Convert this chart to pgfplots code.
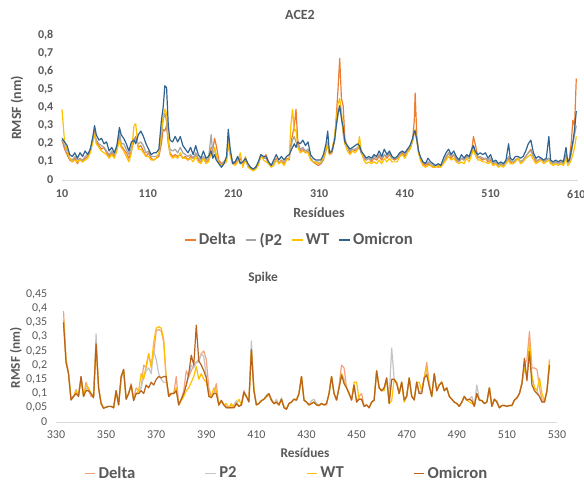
\documentclass[border=0pt]{standalone}
\usepackage{pgfplots}
\pgfplotsset{compat=1.18}
\usepackage{pgfplotstable}
\usepackage{fontspec}
\setmainfont{Carlito}
\definecolor{tgray}{HTML}{595959}
\definecolor{axgray}{HTML}{D9D9D9}
\definecolor{aDelta}{HTML}{ED7D31}
\definecolor{aP2}{HTML}{A5A5A5}
\definecolor{aWT}{HTML}{FFC000}
\definecolor{aOmi}{HTML}{32628F}
\definecolor{sDelta}{HTML}{F4A27E}
\definecolor{sP2}{HTML}{C4C4C4}
\definecolor{sWT}{HTML}{FFC000}
\definecolor{sOmi}{HTML}{B8621B}

\pgfplotstableread{
x D P W O
10 0.22 0.22 0.39 0.23
13 0.17 0.19 0.21 0.21
16 0.14 0.16 0.17 0.19
19 0.11 0.12 0.12 0.14
22 0.10 0.11 0.10 0.13
25 0.12 0.13 0.11 0.15
28 0.09 0.11 0.10 0.12
31 0.12 0.12 0.11 0.15
34 0.10 0.11 0.10 0.13
37 0.12 0.13 0.11 0.16
40 0.13 0.14 0.12 0.14
43 0.16 0.17 0.15 0.17
46 0.22 0.22 0.21 0.24
48 0.27 0.26 0.25 0.30
50 0.21 0.22 0.20 0.25
53 0.19 0.20 0.18 0.22
56 0.17 0.19 0.16 0.23
59 0.18 0.18 0.15 0.20
62 0.15 0.16 0.14 0.21
65 0.13 0.14 0.12 0.16
68 0.15 0.16 0.14 0.18
71 0.13 0.14 0.12 0.15
74 0.17 0.18 0.16 0.19
77 0.24 0.27 0.22 0.29
79 0.19 0.20 0.18 0.25
82 0.17 0.20 0.16 0.23
85 0.15 0.17 0.13 0.20
88 0.12 0.14 0.10 0.16
91 0.16 0.18 0.15 0.21
94 0.22 0.23 0.30 0.22
96 0.24 0.22 0.31 0.20
99 0.18 0.20 0.17 0.25
102 0.19 0.21 0.17 0.27
105 0.16 0.19 0.15 0.24
108 0.13 0.15 0.13 0.20
111 0.15 0.16 0.13 0.17
114 0.12 0.13 0.11 0.14
117 0.11 0.13 0.11 0.15
120 0.12 0.13 0.12 0.15
123 0.13 0.14 0.15 0.17
126 0.20 0.25 0.26 0.33
128 0.28 0.33 0.35 0.40
130 0.27 0.37 0.39 0.52
132 0.30 0.32 0.37 0.51
134 0.20 0.22 0.22 0.30
136 0.15 0.17 0.14 0.22
139 0.13 0.16 0.12 0.21
142 0.14 0.17 0.13 0.24
145 0.13 0.15 0.12 0.21
148 0.14 0.18 0.15 0.24
151 0.12 0.15 0.12 0.19
154 0.13 0.14 0.12 0.17
157 0.11 0.13 0.11 0.15
160 0.13 0.14 0.12 0.18
163 0.12 0.12 0.10 0.14
166 0.14 0.15 0.13 0.19
169 0.11 0.12 0.10 0.14
172 0.10 0.11 0.09 0.12
175 0.12 0.13 0.12 0.16
178 0.10 0.11 0.09 0.12
181 0.11 0.12 0.10 0.13
184 0.18 0.25 0.15 0.16
186 0.17 0.14 0.13 0.12
188 0.23 0.17 0.18 0.14
190 0.19 0.13 0.14 0.11
193 0.11 0.10 0.09 0.09
196 0.09 0.08 0.08 0.07
199 0.10 0.10 0.09 0.09
202 0.12 0.12 0.10 0.13
204 0.22 0.22 0.20 0.28
206 0.15 0.16 0.14 0.18
209 0.10 0.10 0.09 0.09
212 0.09 0.10 0.08 0.10
215 0.11 0.12 0.10 0.13
218 0.12 0.10 0.15 0.09
221 0.08 0.09 0.07 0.10
224 0.11 0.11 0.13 0.12
227 0.08 0.08 0.07 0.09
230 0.06 0.07 0.06 0.07
233 0.06 0.06 0.05 0.06
236 0.07 0.07 0.06 0.07
239 0.09 0.09 0.08 0.10
242 0.13 0.13 0.14 0.14
245 0.12 0.12 0.11 0.13
248 0.14 0.12 0.10 0.13
251 0.10 0.09 0.09 0.10
254 0.08 0.08 0.07 0.08
257 0.09 0.09 0.08 0.11
260 0.12 0.11 0.11 0.14
263 0.09 0.10 0.09 0.11
266 0.11 0.10 0.10 0.13
269 0.09 0.10 0.08 0.11
272 0.12 0.11 0.11 0.13
275 0.11 0.12 0.12 0.14
277 0.20 0.18 0.30 0.16
279 0.25 0.22 0.39 0.18
281 0.30 0.24 0.27 0.20
283 0.39 0.21 0.28 0.18
285 0.22 0.19 0.18 0.21
288 0.16 0.17 0.15 0.20
291 0.17 0.18 0.16 0.22
294 0.15 0.16 0.15 0.19
297 0.16 0.17 0.15 0.21
300 0.12 0.12 0.11 0.14
303 0.10 0.10 0.10 0.12
306 0.09 0.10 0.10 0.11
309 0.08 0.10 0.09 0.11
312 0.09 0.09 0.10 0.11
315 0.11 0.12 0.12 0.14
318 0.16 0.17 0.17 0.20
320 0.20 0.21 0.20 0.27
322 0.14 0.15 0.14 0.15
325 0.15 0.16 0.17 0.16
328 0.22 0.22 0.24 0.22
330 0.35 0.30 0.33 0.30
332 0.50 0.36 0.42 0.37
334 0.67 0.40 0.45 0.41
336 0.45 0.35 0.38 0.34
338 0.41 0.26 0.27 0.29
340 0.23 0.20 0.20 0.21
343 0.18 0.18 0.16 0.19
346 0.15 0.16 0.14 0.17
349 0.17 0.17 0.16 0.18
352 0.16 0.17 0.15 0.19
355 0.17 0.18 0.17 0.20
357 0.18 0.19 0.24 0.19
359 0.15 0.15 0.17 0.16
362 0.12 0.13 0.11 0.14
365 0.11 0.11 0.09 0.12
368 0.12 0.12 0.10 0.13
371 0.10 0.11 0.09 0.12
374 0.12 0.13 0.10 0.14
377 0.11 0.12 0.09 0.13
380 0.13 0.14 0.11 0.16
383 0.11 0.12 0.09 0.13
386 0.14 0.14 0.12 0.17
389 0.12 0.13 0.10 0.14
392 0.14 0.15 0.12 0.16
395 0.12 0.12 0.10 0.13
398 0.11 0.12 0.10 0.12
401 0.12 0.12 0.10 0.13
404 0.13 0.14 0.13 0.15
407 0.15 0.16 0.14 0.16
410 0.13 0.14 0.12 0.15
413 0.16 0.16 0.15 0.17
416 0.18 0.17 0.17 0.19
419 0.22 0.21 0.22 0.23
421 0.33 0.26 0.27 0.27
422 0.48 0.27 0.28 0.27
424 0.24 0.22 0.22 0.22
426 0.15 0.16 0.15 0.16
428 0.12 0.12 0.11 0.13
431 0.09 0.10 0.08 0.10
434 0.08 0.09 0.07 0.09
437 0.09 0.10 0.08 0.12
440 0.08 0.09 0.08 0.10
443 0.07 0.08 0.07 0.09
446 0.08 0.08 0.07 0.08
449 0.07 0.08 0.08 0.09
452 0.08 0.08 0.07 0.08
455 0.10 0.10 0.09 0.12
458 0.12 0.13 0.11 0.15
461 0.15 0.15 0.13 0.17
464 0.12 0.13 0.11 0.14
467 0.14 0.14 0.12 0.16
470 0.11 0.12 0.10 0.13
473 0.10 0.10 0.09 0.11
476 0.12 0.12 0.10 0.14
479 0.11 0.11 0.09 0.12
482 0.13 0.13 0.12 0.14
485 0.12 0.12 0.10 0.13
488 0.16 0.15 0.14 0.17
490 0.24 0.18 0.17 0.19
492 0.20 0.15 0.14 0.16
495 0.13 0.12 0.11 0.14
498 0.12 0.13 0.11 0.15
501 0.11 0.12 0.10 0.14
504 0.12 0.12 0.10 0.15
507 0.10 0.11 0.09 0.12
510 0.11 0.12 0.10 0.14
513 0.08 0.09 0.08 0.10
516 0.09 0.10 0.09 0.11
519 0.08 0.08 0.07 0.09
522 0.09 0.09 0.08 0.10
525 0.08 0.08 0.07 0.09
528 0.10 0.10 0.09 0.11
531 0.12 0.13 0.11 0.20
533 0.10 0.11 0.09 0.12
536 0.09 0.10 0.09 0.11
539 0.11 0.11 0.10 0.13
542 0.12 0.12 0.12 0.13
545 0.10 0.10 0.09 0.12
548 0.11 0.11 0.10 0.13
551 0.13 0.13 0.12 0.16
554 0.15 0.15 0.13 0.20
557 0.17 0.16 0.14 0.22
560 0.13 0.13 0.11 0.15
563 0.10 0.11 0.09 0.12
566 0.11 0.11 0.10 0.13
569 0.12 0.12 0.11 0.12
572 0.10 0.10 0.09 0.11
575 0.11 0.11 0.10 0.12
578 0.12 0.12 0.11 0.24
580 0.10 0.10 0.09 0.11
583 0.09 0.09 0.08 0.10
586 0.10 0.10 0.09 0.11
589 0.09 0.09 0.08 0.10
592 0.10 0.10 0.09 0.11
595 0.09 0.09 0.08 0.10
598 0.14 0.13 0.12 0.18
600 0.10 0.09 0.08 0.10
602 0.12 0.10 0.09 0.11
604 0.20 0.14 0.11 0.16
606 0.33 0.20 0.14 0.21
608 0.30 0.25 0.18 0.28
610 0.56 0.30 0.24 0.38
}\acetab

\pgfplotstableread{
x D P W O
333 0.39 0.35 0.36 0.35
334 0.22 0.21 0.22 0.21
335 0.17 0.17 0.17 0.17
336 0.08 0.08 0.08 0.077
337 0.09 0.09 0.09 0.09
338 0.10 0.115 0.11 0.10
339 0.095 0.09 0.095 0.09
340 0.16 0.15 0.15 0.16
341 0.09 0.09 0.09 0.09
342 0.14 0.12 0.13 0.11
343 0.11 0.11 0.12 0.11
344 0.09 0.10 0.10 0.10
345 0.09 0.09 0.09 0.085
346 0.27 0.31 0.27 0.275
347 0.12 0.12 0.12 0.12
348 0.065 0.065 0.065 0.065
349 0.05 0.05 0.05 0.048
350 0.052 0.052 0.052 0.052
351 0.055 0.055 0.055 0.055
352 0.055 0.055 0.055 0.055
353 0.05 0.05 0.05 0.05
354 0.11 0.10 0.11 0.11
355 0.06 0.06 0.06 0.06
356 0.16 0.15 0.16 0.16
357 0.185 0.18 0.18 0.185
358 0.08 0.085 0.085 0.08
359 0.10 0.10 0.10 0.10
360 0.135 0.13 0.13 0.13
361 0.08 0.08 0.08 0.075
362 0.12 0.10 0.10 0.10
363 0.11 0.10 0.11 0.10
364 0.12 0.12 0.17 0.11
365 0.20 0.16 0.15 0.10
366 0.19 0.18 0.20 0.13
367 0.24 0.19 0.24 0.12
368 0.20 0.17 0.19 0.14
369 0.24 0.25 0.28 0.13
370 0.32 0.22 0.33 0.15
371 0.325 0.17 0.335 0.16
372 0.32 0.15 0.33 0.155
373 0.28 0.14 0.29 0.16
374 0.15 0.14 0.15 0.16
375 0.09 0.10 0.09 0.09
376 0.10 0.10 0.10 0.10
377 0.10 0.10 0.10 0.10
378 0.16 0.12 0.12 0.11
379 0.06 0.06 0.06 0.06
380 0.08 0.08 0.075 0.08
381 0.11 0.10 0.09 0.10
382 0.18 0.13 0.11 0.13
383 0.16 0.16 0.12 0.17
384 0.18 0.20 0.14 0.235
385 0.20 0.19 0.16 0.20
386 0.21 0.21 0.195 0.34
387 0.22 0.21 0.15 0.215
388 0.24 0.24 0.17 0.20
389 0.25 0.23 0.15 0.18
390 0.22 0.16 0.14 0.155
391 0.12 0.10 0.10 0.09
392 0.09 0.09 0.09 0.085
393 0.10 0.10 0.12 0.10
394 0.135 0.11 0.11 0.10
395 0.06 0.06 0.06 0.06
396 0.077 0.075 0.075 0.075
397 0.06 0.06 0.06 0.06
398 0.055 0.05 0.065 0.05
399 0.05 0.05 0.05 0.05
400 0.06 0.05 0.065 0.05
401 0.05 0.06 0.05 0.05
402 0.07 0.075 0.06 0.065
403 0.055 0.055 0.08 0.055
404 0.06 0.06 0.06 0.06
405 0.11 0.10 0.10 0.105
406 0.09 0.09 0.09 0.09
407 0.075 0.075 0.075 0.07
408 0.25 0.285 0.25 0.255
409 0.11 0.11 0.12 0.11
410 0.06 0.06 0.06 0.06
411 0.065 0.065 0.065 0.065
412 0.075 0.075 0.075 0.075
413 0.08 0.08 0.08 0.08
414 0.09 0.095 0.09 0.09
415 0.095 0.10 0.095 0.10
416 0.08 0.08 0.075 0.077
417 0.065 0.065 0.065 0.064
418 0.07 0.08 0.07 0.07
419 0.06 0.06 0.06 0.06
420 0.08 0.085 0.08 0.08
421 0.055 0.055 0.055 0.05
422 0.045 0.045 0.045 0.045
423 0.065 0.065 0.065 0.065
424 0.07 0.07 0.07 0.07
425 0.08 0.08 0.08 0.08
426 0.075 0.075 0.08 0.077
427 0.10 0.10 0.10 0.10
428 0.16 0.16 0.16 0.16
429 0.077 0.077 0.077 0.077
430 0.07 0.07 0.07 0.07
431 0.06 0.06 0.06 0.06
432 0.065 0.075 0.065 0.065
433 0.07 0.08 0.07 0.07
434 0.06 0.065 0.06 0.06
435 0.058 0.06 0.058 0.058
436 0.065 0.065 0.065 0.065
437 0.06 0.06 0.06 0.06
438 0.06 0.065 0.065 0.065
439 0.10 0.10 0.10 0.10
440 0.16 0.16 0.16 0.16
441 0.10 0.10 0.10 0.10
442 0.077 0.077 0.077 0.077
443 0.13 0.12 0.12 0.12
444 0.20 0.17 0.17 0.165
445 0.19 0.15 0.14 0.135
446 0.12 0.12 0.12 0.12
447 0.10 0.10 0.10 0.10
448 0.077 0.08 0.08 0.077
449 0.13 0.13 0.14 0.13
450 0.07 0.07 0.14 0.07
451 0.09 0.08 0.08 0.08
452 0.10 0.08 0.08 0.08
453 0.055 0.055 0.055 0.055
454 0.06 0.06 0.06 0.06
455 0.05 0.05 0.05 0.05
456 0.07 0.07 0.07 0.07
457 0.077 0.077 0.077 0.077
458 0.18 0.18 0.18 0.18
459 0.12 0.12 0.12 0.12
460 0.11 0.11 0.11 0.11
461 0.12 0.12 0.11 0.12
462 0.155 0.155 0.15 0.155
463 0.07 0.09 0.065 0.065
464 0.15 0.26 0.075 0.15
465 0.15 0.15 0.15 0.15
466 0.14 0.14 0.14 0.135
467 0.10 0.10 0.10 0.10
468 0.14 0.14 0.14 0.14
469 0.077 0.077 0.07 0.077
470 0.09 0.09 0.09 0.09
471 0.155 0.155 0.155 0.155
472 0.09 0.09 0.09 0.09
473 0.08 0.08 0.08 0.077
474 0.14 0.14 0.14 0.14
475 0.10 0.10 0.14 0.10
476 0.11 0.11 0.11 0.10
477 0.155 0.155 0.155 0.155
478 0.21 0.17 0.19 0.165
479 0.13 0.14 0.13 0.125
480 0.09 0.09 0.09 0.09
481 0.17 0.17 0.17 0.17
482 0.11 0.11 0.11 0.11
483 0.13 0.13 0.13 0.13
484 0.14 0.14 0.14 0.14
485 0.11 0.11 0.11 0.11
486 0.12 0.12 0.12 0.12
487 0.09 0.09 0.09 0.09
488 0.08 0.08 0.08 0.08
489 0.07 0.07 0.07 0.07
490 0.065 0.065 0.065 0.065
491 0.055 0.055 0.055 0.055
492 0.07 0.07 0.07 0.07
493 0.09 0.09 0.09 0.09
494 0.077 0.077 0.077 0.077
495 0.08 0.08 0.07 0.08
496 0.075 0.09 0.065 0.075
497 0.055 0.06 0.06 0.055
498 0.10 0.13 0.10 0.10
499 0.077 0.08 0.077 0.077
500 0.075 0.075 0.075 0.075
501 0.065 0.065 0.065 0.065
502 0.07 0.07 0.07 0.07
503 0.12 0.12 0.12 0.12
504 0.055 0.055 0.055 0.055
505 0.08 0.08 0.08 0.08
506 0.07 0.075 0.07 0.07
507 0.05 0.05 0.05 0.05
508 0.058 0.058 0.058 0.058
509 0.058 0.058 0.058 0.058
510 0.055 0.055 0.055 0.055
511 0.058 0.058 0.058 0.058
512 0.058 0.058 0.058 0.058
513 0.077 0.077 0.077 0.077
514 0.085 0.085 0.085 0.085
515 0.10 0.10 0.10 0.10
516 0.135 0.135 0.14 0.135
517 0.20 0.19 0.19 0.224
518 0.22 0.16 0.16 0.145
519 0.318 0.25 0.28 0.247
520 0.19 0.16 0.16 0.13
521 0.19 0.12 0.12 0.11
522 0.185 0.11 0.11 0.10
523 0.12 0.09 0.155 0.09
524 0.08 0.07 0.10 0.07
525 0.07 0.07 0.075 0.07
526 0.11 0.11 0.11 0.11
527 0.21 0.20 0.22 0.20
}\spiketab

\pgfplotsset{
  mychart/.style={
    scale only axis,
    anchor=south west,
    axis lines*=left,
    x axis line style={draw=axgray, line width=0.6pt},
    y axis line style={draw=none},
    major tick length=0pt,
    tick style={draw=none},
    ymin=0,
    clip=false,
    /pgf/number format/assume math mode=true,
    yticklabel style={/pgf/number format/.cd, use comma, fixed, precision=2},
    xticklabel style={/pgf/number format/.cd, 1000 sep={}},
    legend columns=4,
    legend image code/.code={\draw[#1] (0pt,0pt) -- (8pt,0pt);},
    every axis plot/.append style={no markers, line width=0.9pt, line join=round},
  }
}

\begin{document}
\begin{tikzpicture}
\path[use as bounding box] (0pt,0pt) rectangle (438pt,-363pt);

% ---------- ACE2 ----------
\begin{axis}[mychart,
  at={(46.5pt,-135pt)}, width=387pt, height=108.75pt,
  xmin=10, xmax=612, ymax=0.8,
  xtick={10,110,210,310,410,510,610},
  ytick={0,0.1,0.2,0.3,0.4,0.5,0.6,0.7,0.8},
  ticklabel style={font=\fontsize{9}{10}\selectfont\bfseries, text=tgray},
  xticklabel shift=4pt, yticklabel shift=3pt,
  legend style={at={(0.461,-0.414)}, anchor=center, draw=none, fill=none,
    font=\fontsize{12.5}{14}\selectfont\bfseries, text=tgray,
    /tikz/every even column/.append style={column sep=5pt}},
]
\addplot[color=aDelta] table[x=x, y=D] {\acetab};
\addlegendentry{Delta}
\addplot[color=aP2] table[x=x, y=P] {\acetab};
\addlegendentry{{(P2}}
\addplot[color=aWT] table[x=x, y=W] {\acetab};
\addlegendentry{WT}
\addplot[color=aOmi] table[x=x, y=O] {\acetab};
\addlegendentry{Omicron}
\end{axis}

% ---------- Spike ----------
\begin{axis}[mychart,
  at={(42pt,-316.5pt)}, width=375.75pt, height=96pt,
  xmin=330, xmax=530, ymax=0.45,
  xtick={330,350,370,390,410,430,450,470,490,510,530},
  ytick={0,0.05,0.1,0.15,0.2,0.25,0.3,0.35,0.4,0.45},
  ticklabel style={font=\fontsize{9}{10}\selectfont, text=tgray},
  xticklabel shift=3pt, yticklabel shift=3pt,
  legend style={at={(0.461,-0.40)}, anchor=center, draw=none, fill=none,
    font=\fontsize{12.5}{14}\selectfont\bfseries, text=tgray,
    /tikz/every even column/.append style={column sep=50pt}},
]
\addplot[color=sDelta] table[x=x, y=D] {\spiketab};
\addlegendentry{Delta}
\addplot[color=sP2] table[x=x, y=P] {\spiketab};
\addlegendentry{P2}
\addplot[color=sWT] table[x=x, y=W] {\spiketab};
\addlegendentry{WT}
\addplot[color=sOmi] table[x=x, y=O] {\spiketab};
\addlegendentry{Omicron}
\end{axis}

% titles and axis labels
\node[font=\fontsize{10.5}{12}\selectfont\bfseries, text=tgray] at (225pt,-11.25pt) {ACE2};
\node[font=\fontsize{10.5}{12}\selectfont\bfseries, text=tgray] at (239.25pt,-159.75pt) {Resídues};
\node[font=\fontsize{10.5}{12}\selectfont\bfseries, text=tgray, rotate=90] at (12.75pt,-81pt) {RMSF (nm)};
\node[font=\fontsize{10}{12}\selectfont\bfseries, text=tgray] at (197.25pt,-208.5pt) {Spike};
\node[font=\fontsize{10}{12}\selectfont\bfseries, text=tgray] at (228.75pt,-339.75pt) {Resídues};
\node[font=\fontsize{10}{12}\selectfont\bfseries, text=tgray, rotate=90] at (12pt,-268.5pt) {RMSF (nm)};
\end{tikzpicture}
\end{document}
